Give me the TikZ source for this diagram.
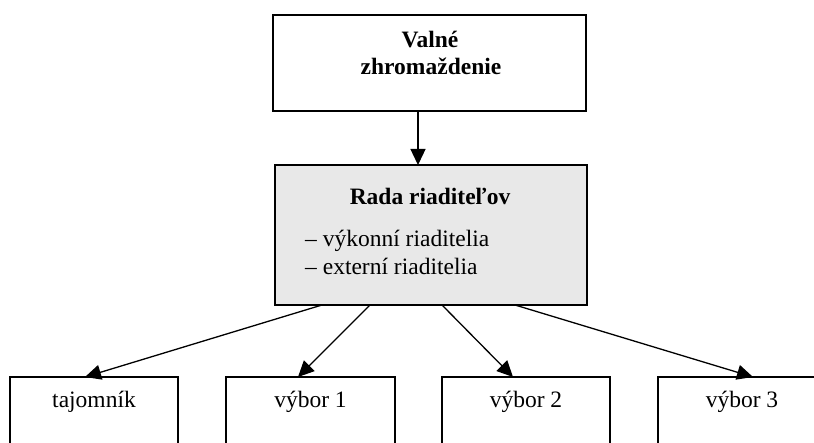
\documentclass[tikz,border=0pt]{standalone}
\usepackage{fontspec}
\setmainfont{Liberation Serif}
\usetikzlibrary{arrows.meta,calc}
\definecolor{boxgrey}{RGB}{232,232,232}
\begin{document}
\begin{tikzpicture}[x=1pt,y=-1pt,
  box/.style={draw=black,line width=1.3pt,inner sep=0pt,outer sep=0pt},
  txt/.style={inner sep=0pt,anchor=base,font=\fontsize{23.5}{27}\selectfont},
  btxt/.style={txt,font=\fontsize{23.5}{27}\selectfont\bfseries},
  arr/.style={line width=1.3pt,-{Triangle[length=16pt,width=15pt]}}]
\useasboundingbox (0,0) rectangle (814,443);
\clip (0,0) rectangle (814,443);
% boxes
\node[box,anchor=north west,minimum width=313pt,minimum height=96pt] (valne) at (273,15) {};
\node[box,fill=boxgrey,anchor=north west,minimum width=312pt,minimum height=140pt] (rada) at (275,165) {};
\node[box,anchor=north west,minimum width=168pt,minimum height=90pt] (taj) at (10,377) {};
\node[box,anchor=north west,minimum width=169pt,minimum height=90pt] (v1) at (226,377) {};
\node[box,anchor=north west,minimum width=168pt,minimum height=90pt] (v2) at (442,377) {};
\node[box,anchor=north west,minimum width=168pt,minimum height=90pt] (v3) at (658,377) {};
% texts
\node[btxt] (t1) at (430,48) {Valné};
\node[btxt] (t2) at (431,75) {zhromaždenie};
\node[btxt] (t3) at (430,205) {Rada riaditeľov};
\node[txt,anchor=base west] (t4) at (305,247) {– výkonní riaditelia};
\node[txt,anchor=base west] (t5) at (305,275) {– externí riaditelia};
\node[txt] (t6) at (94,408) {tajomník};
\node[txt] (t7) at (310.5,408) {výbor 1};
\node[txt] (t8) at (526,408) {výbor 2};
\node[txt] (t9) at (742,408) {výbor 3};
% connectors
\draw[arr] ($(valne.south west)+(145,0)$) -- ($(rada.north west)+(143,0)$);
\draw[arr] ($(rada.south west)+(47,0)$) -- ($(taj.north west)+(75,0)$);
\draw[arr] ($(rada.south west)+(95,0)$) -- ($(v1.north west)+(72,0)$);
\draw[arr] ($(rada.south west)+(167,0)$) -- ($(v2.north west)+(71,0)$);
\draw[arr] ($(rada.south west)+(240,0)$) -- ($(v3.north west)+(95,0)$);
\end{tikzpicture}
\end{document}
